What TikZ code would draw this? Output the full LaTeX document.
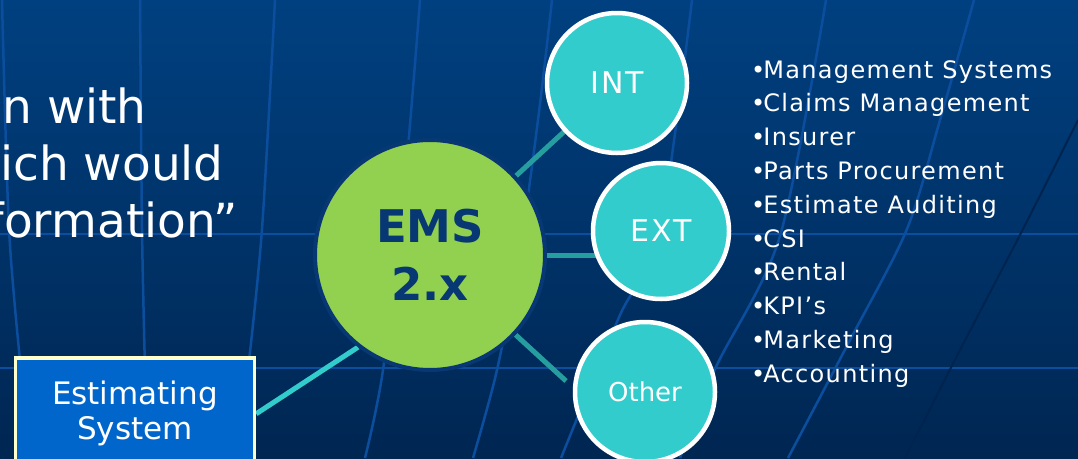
\documentclass[tikz,border=0pt]{standalone}
\usepackage{fontspec}
\setmainfont{DejaVu Sans}
\newfontfamily\listfont[LetterSpace=5.5]{DejaVu Sans}
\newfontfamily\satfont[LetterSpace=6]{DejaVu Sans}
\definecolor{bgtop}{RGB}{0,64,128}
\definecolor{bgbot}{RGB}{0,38,82}
\definecolor{gridc}{RGB}{12,78,158}
\definecolor{gridd}{RGB}{0,36,80}
\definecolor{emsgreen}{RGB}{146,208,80}
\definecolor{emsnavy}{RGB}{8,56,116}
\definecolor{tealc}{RGB}{51,204,204}
\definecolor{darkteal}{RGB}{38,158,160}
\definecolor{boxblue}{RGB}{0,102,204}
\definecolor{boxedge}{RGB}{255,255,204}
\pgfdeclarelayer{back}
\pgfdeclarelayer{mid}
\pgfsetlayers{back,mid,main}
\begin{document}
\begin{tikzpicture}[x=1pt,y=-1pt,
  gridline/.style={gridc, line width=2.5pt},
  hub/.style={circle, fill=emsgreen, draw=emsnavy, line width=4pt,
    minimum size=230pt, inner sep=0pt, text=emsnavy, align=center,
    font=\fontsize{45}{58}\selectfont\bfseries},
  sat/.style={circle, fill=tealc, draw=white, line width=4.5pt,
    minimum size=140pt, inner sep=0pt, text=white},
  link/.style={darkteal, line width=5pt},
  estlink/.style={tealc, line width=5pt},
  slidetext/.style={text=white, inner sep=0pt, anchor=base east,
    font=\fontsize{47}{57}\selectfont},
  listitem/.style={text=white, inner sep=0pt, anchor=base west,
    font=\listfont\fontsize{24}{30}\selectfont},
  estbox/.style={fill=boxblue, draw=boxedge, line width=3.5pt, text=white,
    minimum width=239pt, minimum height=112pt, align=center, inner sep=0pt,
    font=\fontsize{31}{35}\selectfont}
]
\useasboundingbox (0,0) rectangle (1078,458);
\begin{pgfonlayer}{back}
  \fill[top color=bgtop, bottom color=bgbot] (0,0) rectangle (1078,458);
  % horizontal grid lines
  \draw[gridline] (0,234) -- (1078,234);
  \draw[gridline] (0,368) -- (1078,368);
  % meridians
  \draw[gridline] plot[smooth] coordinates {(2,0) (9,229) (21,370)};
  \draw[gridline] plot[smooth] coordinates {(140,0) (142,229) (145,370)};
  \draw[gridline] plot[smooth] coordinates {(275,0) (262,229) (248,370)};
  \draw[gridline] plot[smooth] coordinates {(420,0) (405,180) (383,370) (365,458)};
  \draw[gridline] plot[smooth] coordinates {(552,0) (538,120) (520,250) (497,370) (473,458)};
  \draw[gridline] plot[smooth] coordinates {(692,0) (659,236) (620,315) (561,458)};
  \draw[gridline] plot[smooth] coordinates {(826,0) (780,236) (716,367) (680,458)};
  \draw[gridline] plot[smooth] coordinates {(974,0) (940,120) (907,229) (850,340) (788,458)};
  \draw[gridd, line width=2pt] plot[smooth] coordinates {(1078,120) (1023,229) (960,350) (905,458)};
\end{pgfonlayer}

% left slide text
\node[slidetext] (t1) at (147,123) {n with};
\node[slidetext] (t2) at (224,180) {ich would};
\node[slidetext] (t3) at (238,237) {formation”};

% hub and satellites
\node[hub] (EMS) at (430,255) {EMS\\2.x};
\node[sat, font=\satfont\fontsize{30}{36}\selectfont] (INT) at (617,83) {INT};
\node[sat, minimum size=136pt, font=\satfont\fontsize{30}{36}\selectfont] (EXT) at (661,231) {EXT};
\node[sat, font=\fontsize{26}{32}\selectfont] (OTH) at (645,392) {Other};
\node[estbox, anchor=north] (EST) at (135,356) {Estimating\\System};

\coordinate (othend) at (566,381);
\begin{pgfonlayer}{mid}
  \draw[link] (EMS.center) -- (INT.center);
  \draw[link] (EMS.center) -- (EMS.center -| EXT.center);
  \draw[link] (EMS.-43) -- (othend);
  \draw[estlink] (EST.east) -- (EMS.232);
\end{pgfonlayer}

% bullet list
\foreach \txt [count=\i] in {Management Systems, Claims Management, Insurer,
  Parts Procurement, Estimate Auditing, CSI, Rental, KPI’s, Marketing, Accounting}{
  \node[listitem] (b\i) at (751,{78+(\i-1)*33.8}) {•\kern-2pt\txt};
}
\end{tikzpicture}
\end{document}
